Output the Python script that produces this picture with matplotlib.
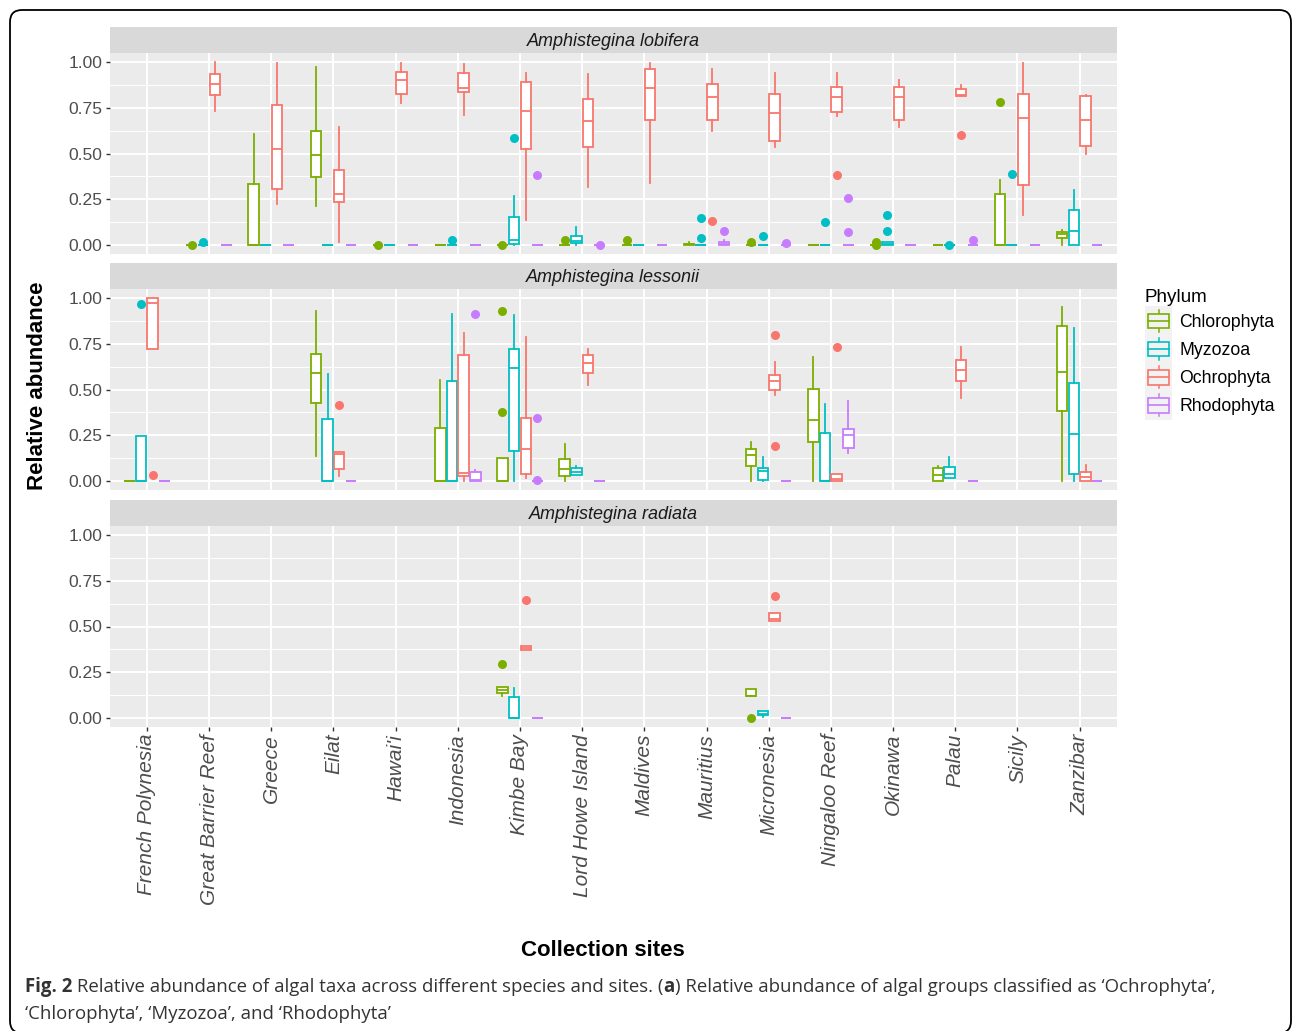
import matplotlib

matplotlib.use("Agg", force=True)
import matplotlib.pyplot as plt
from matplotlib.legend_handler import HandlerBase
from matplotlib.lines import Line2D
from matplotlib.patches import FancyBboxPatch, Patch, Rectangle
from matplotlib.ticker import FixedLocator, FormatStrFormatter
from matplotlib.transforms import IdentityTransform

W, H = 1293, 1031

sites = ["French Polynesia", "Great Barrier Reef", "Greece", "Eilat", "Hawai'i",
         "Indonesia", "Kimbe Bay", "Lord Howe Island", "Maldives", "Mauritius",
         "Micronesia", "Ningaloo Reef", "Okinawa", "Palau", "Sicily", "Zanzibar"]
phyla = ["Chlorophyta", "Myzozoa", "Ochrophyta", "Rhodophyta"]
colors = ["#7CAE00", "#00BFC4", "#F8766D", "#C77CFF"]
species = ["Amphistegina lobifera", "Amphistegina lessonii", "Amphistegina radiata"]

# box stats per site: (whislo, q1, med, q3, whishi, outliers); None = no samples
Z = (0, 0, 0, 0, 0, [])

lobifera_chl = [None, (0, 0, 0, 0, 0, [0.0]), (0, 0, 0, 0.334, 0.604, []),
                (0.212, 0.370, 0.491, 0.622, 0.974, []), (0, 0, 0, 0, 0, [0.0]), Z,
                (0, 0, 0, 0, 0, [0.0]), (0, 0, 0, 0, 0, [0.029]), (0, 0, 0, 0, 0, [0.027]),
                (0, 0, 0.003, 0.007, 0.013, []), (0, 0, 0, 0, 0, [0.018]), Z,
                (0, 0, 0, 0, 0, [0.0, 0.015]), Z, (0, 0, 0, 0.279, 0.354, [0.783]),
                (0, 0.040, 0.058, 0.073, 0.084, [])]
lobifera_myz = [None, (0, 0, 0, 0, 0, [0.018]), Z, Z, Z, (0, 0, 0, 0, 0, [0.024]),
                (0, 0.004, 0.027, 0.153, 0.270, [0.584]), (0, 0.009, 0.022, 0.049, 0.097, []),
                Z, (0, 0, 0, 0, 0, [0.036, 0.148]), (0, 0, 0, 0, 0, [0.049]),
                (0, 0, 0, 0, 0, [0.124]), (0, 0, 0.005, 0.018, 0.018, [0.077, 0.161]),
                (0, 0, 0, 0, 0, [0.0]), (0, 0, 0, 0, 0, [0.390]), (0, 0, 0.077, 0.190, 0.301, [])]
lobifera_och = [None, (0.732, 0.821, 0.883, 0.936, 1.0, []), (0.226, 0.305, 0.522, 0.765, 0.995, []),
                (0.018, 0.234, 0.277, 0.411, 0.644, []), (0.774, 0.828, 0.903, 0.945, 0.993, []),
                (0.712, 0.839, 0.856, 0.943, 0.989, []), (0.135, 0.522, 0.735, 0.890, 0.943, []),
                (0.319, 0.533, 0.679, 0.797, 0.934, []), (0.336, 0.682, 0.856, 0.962, 0.995, []),
                (0.624, 0.682, 0.807, 0.880, 0.962, [0.131]), (0.535, 0.566, 0.721, 0.828, 0.940, []),
                (0.704, 0.726, 0.810, 0.865, 0.940, [0.381]), (0.644, 0.686, 0.808, 0.863, 0.901, []),
                (0.812, 0.812, 0.820, 0.854, 0.876, [0.602]), (0.161, 0.328, 0.695, 0.825, 0.998, []),
                (0.496, 0.542, 0.686, 0.816, 0.819, [])]
lobifera_rho = [None, Z, Z, Z, Z, Z, (0, 0, 0, 0, 0, [0.380]), (0, 0, 0, 0, 0, [0.0]), Z,
                (0, 0, 0.006, 0.015, 0.026, [0.078]), (0, 0, 0, 0, 0, [0.010]),
                (0, 0, 0, 0, 0, [0.073, 0.255]), Z, (0, 0, 0, 0, 0, [0.024]), Z, Z]

lessonii_chl = [Z, None, None, (0.137, 0.427, 0.593, 0.693, 0.927, []), None,
                (0, 0, 0, 0.292, 0.551, []), (0, 0, 0, 0.126, 0.126, [0.378, 0.930]),
                (0, 0.024, 0.064, 0.120, 0.203, []), None, None,
                (0, 0.080, 0.144, 0.173, 0.213, []), (0, 0.210, 0.334, 0.505, 0.677, []),
                None, (0, 0, 0.031, 0.068, 0.080, []), None, (0, 0.383, 0.597, 0.845, 0.953, [])]
lessonii_myz = [(0, 0, 0, 0.243, 0.243, [0.967]), None, None, (0, 0, 0, 0.341, 0.584, []), None,
                (0, 0, 0, 0.547, 0.912, []), (0, 0.161, 0.617, 0.723, 0.907, []),
                (0.033, 0.033, 0.049, 0.069, 0.084, []), None, None,
                (0, 0.005, 0.053, 0.068, 0.131, []), (0, 0, 0, 0.261, 0.418, []),
                None, (0.018, 0.018, 0.040, 0.075, 0.128, []), None, (0, 0.036, 0.255, 0.533, 0.838, [])]
lessonii_och = [(0.719, 0.719, 0.976, 1.0, 1.0, [0.031]), None, None,
                (0.027, 0.064, 0.146, 0.159, 0.159, [0.414]), None, (0, 0.026, 0.042, 0.688, 0.810, []),
                (0.013, 0.036, 0.175, 0.343, 0.785, []), (0.526, 0.589, 0.646, 0.688, 0.721, []),
                None, None, (0.471, 0.500, 0.547, 0.582, 0.653, [0.190, 0.796]),
                (0, 0, 0.010, 0.040, 0.040, [0.730]), None, (0.454, 0.547, 0.609, 0.664, 0.734, []),
                None, (0, 0, 0.022, 0.046, 0.086, [])]
lessonii_rho = [Z, None, None, Z, None, (0, 0, 0.005, 0.049, 0.060, [0.912]),
                (0, 0, 0, 0, 0, [0.007, 0.345]), Z, None, None, Z,
                (0.155, 0.179, 0.250, 0.286, 0.438, []), None, Z, None, Z]

radiata_chl = [None] * 6 + [(0.122, 0.137, 0.153, 0.171, 0.171, [0.295])] + [None] * 3 + \
              [(0.117, 0.117, 0.120, 0.157, 0.157, [0.0])] + [None] * 5
radiata_myz = [None] * 6 + [(0, 0, 0, 0.115, 0.164, [])] + [None] * 3 + \
              [(0.004, 0.013, 0.022, 0.035, 0.035, [])] + [None] * 5
radiata_och = [None] * 6 + [(0.372, 0.372, 0.385, 0.393, 0.393, [0.643])] + [None] * 3 + \
              [(0.532, 0.532, 0.541, 0.574, 0.574, [0.665])] + [None] * 5
radiata_rho = [None] * 6 + [Z] + [None] * 3 + [Z] + [None] * 5

panels = [
    (lobifera_chl, lobifera_myz, lobifera_och, lobifera_rho),
    (lessonii_chl, lessonii_myz, lessonii_och, lessonii_rho),
    (radiata_chl, radiata_myz, radiata_och, radiata_rho),
]

plt.rcParams["font.family"] = ["Liberation Sans", "DejaVu Sans"]

STEP = 0.1875
BOX_W = 0.169


def frac(x0, top, x1, bottom):
    return [x0 / W, 1 - bottom / H, (x1 - x0) / W, (bottom - top) / H]


def draw_panel(ax, groups, bottom_axis):
    ax.set_facecolor("#EBEBEB")
    for s in ax.spines.values():
        s.set_visible(False)
    for k, (rows, c) in enumerate(zip(groups, colors)):
        stats, pos = [], []
        for i, r in enumerate(rows):
            if r is None:
                continue
            lo, q1, med, q3, hi, out = r
            stats.append(dict(whislo=lo, q1=q1, med=med, q3=q3, whishi=hi, fliers=out))
            pos.append(i + (k - 1.5) * STEP)
        ax.bxp(stats, positions=pos, widths=BOX_W, patch_artist=True, showcaps=False,
               manage_ticks=False,
               boxprops=dict(facecolor="white", edgecolor=c, linewidth=1.3),
               whiskerprops=dict(color=c, linewidth=1.3),
               medianprops=dict(color=c, linewidth=1.3),
               flierprops=dict(marker="o", markerfacecolor=c, markeredgecolor="none",
                               markersize=6.5))
    ax.set_xlim(-0.6, len(sites) - 0.4)
    ax.set_ylim(-0.05, 1.05)
    ax.set_yticks([0, 0.25, 0.5, 0.75, 1.0])
    ax.yaxis.set_major_formatter(FormatStrFormatter("%.2f"))
    ax.yaxis.set_minor_locator(FixedLocator([0.125, 0.375, 0.625, 0.875]))
    ax.set_xticks(range(len(sites)))
    ax.set_axisbelow(True)
    ax.grid(which="major", color="white", linewidth=1.4)
    ax.grid(which="minor", axis="y", color="white", linewidth=0.7)
    ax.tick_params(axis="y", which="major", length=3, width=1, color="#333333",
                   labelsize=12.6, labelcolor="#4D4D4D", pad=2)
    ax.tick_params(axis="y", which="minor", length=0)
    if bottom_axis:
        ax.set_xticklabels(sites, rotation=90, fontstyle="italic", fontsize=15, color="#4D4D4D")
        ax.tick_params(axis="x", length=3, width=1, color="#333333", pad=2)
    else:
        ax.tick_params(axis="x", length=0, labelbottom=False)


class BoxKey(HandlerBase):
    def create_artists(self, legend, orig_handle, xdescent, ydescent, width, height,
                       fontsize, trans):
        c = orig_handle.get_edgecolor()
        x0, y0 = -xdescent, -ydescent
        bg = Rectangle((x0, y0 - 1), width, height + 2, facecolor="#F2F2F2",
                       edgecolor="none", transform=trans)
        cx = x0 + width / 2
        whisk = Line2D([cx, cx], [y0 + 0.08 * height, y0 + 0.92 * height], color=c,
                       linewidth=1.1, transform=trans)
        box = Rectangle((x0 + 0.12 * width, y0 + 0.22 * height), 0.76 * width, 0.56 * height,
                        facecolor="#F2F2F2", edgecolor=c, linewidth=1.2, transform=trans)
        med = Line2D([x0 + 0.12 * width, x0 + 0.88 * width], [y0 + height / 2] * 2, color=c,
                     linewidth=1.2, transform=trans)
        return [bg, whisk, box, med]


fig = plt.figure(figsize=(W / 100, H / 100), dpi=100)

layout = [(27, 53, 254), (263, 289, 490), (500, 526, 727)]
for n, ((s_top, p_top, p_bot), groups, name) in enumerate(zip(layout, panels, species)):
    strip = fig.add_axes(frac(109.5, s_top, 1117, p_top))
    strip.set_facecolor("#D9D9D9")
    strip.set_xticks([])
    strip.set_yticks([])
    for s in strip.spines.values():
        s.set_visible(False)
    strip.text(0.5, 0.45, name, ha="center", va="center", fontstyle="italic",
               fontsize=13, color="#1A1A1A", transform=strip.transAxes)
    ax = fig.add_axes(frac(109.5, p_top, 1117, p_bot))
    draw_panel(ax, groups, n == 2)

fig.text(38 / W, 1 - 386 / H, "Relative abundance", rotation=90, ha="center", va="center",
         fontsize=16, fontweight="bold", color="black")
fig.text(603 / W, 1 - 951 / H, "Collection sites", ha="center", va="center",
         fontsize=16, fontweight="bold", color="black")

handles = [Patch(facecolor="white", edgecolor=c) for c in colors]
fig.legend(handles, phyla, handler_map={Patch: BoxKey()}, title="Phylum",
           loc="upper left", bbox_to_anchor=(1145 / W, 1 - 289 / H), frameon=False,
           fontsize=12.7, title_fontsize=13.6, alignment="left", borderpad=0,
           handlelength=1.55, handleheight=1.92, handletextpad=0.4, labelspacing=0.1,
           borderaxespad=0)

# caption set in pixel coordinates, pieces placed one after another
renderer = fig.canvas.get_renderer()
cap = dict(family=["Open Sans", "DejaVu Sans"], fontsize=13.4, color="#333333",
           transform=IdentityTransform(), va="baseline")
x = 25
for piece, weight in [("Fig. 2", "bold"),
                      (" Relative abundance of algal taxa across different species and sites. (", "normal"),
                      ("a", "bold"),
                      (") Relative abundance of algal groups classified as \u2018Ochrophyta\u2019,", "normal")]:
    t = fig.text(x, H - 992, piece, fontweight=weight, **cap)
    x = t.get_window_extent(renderer).x1
fig.text(25, H - 1019, "\u2018Chlorophyta\u2019, \u2018Myzozoa\u2019, and \u2018Rhodophyta\u2019", **cap)

frame = FancyBboxPatch((10, -2), 1281, H - 8, boxstyle="round,pad=0,rounding_size=12",
                       facecolor="none", edgecolor="black", linewidth=1.3,
                       transform=IdentityTransform())
fig.patches.append(frame)

fig.savefig("out.png", dpi=100)
plt.close(fig)
